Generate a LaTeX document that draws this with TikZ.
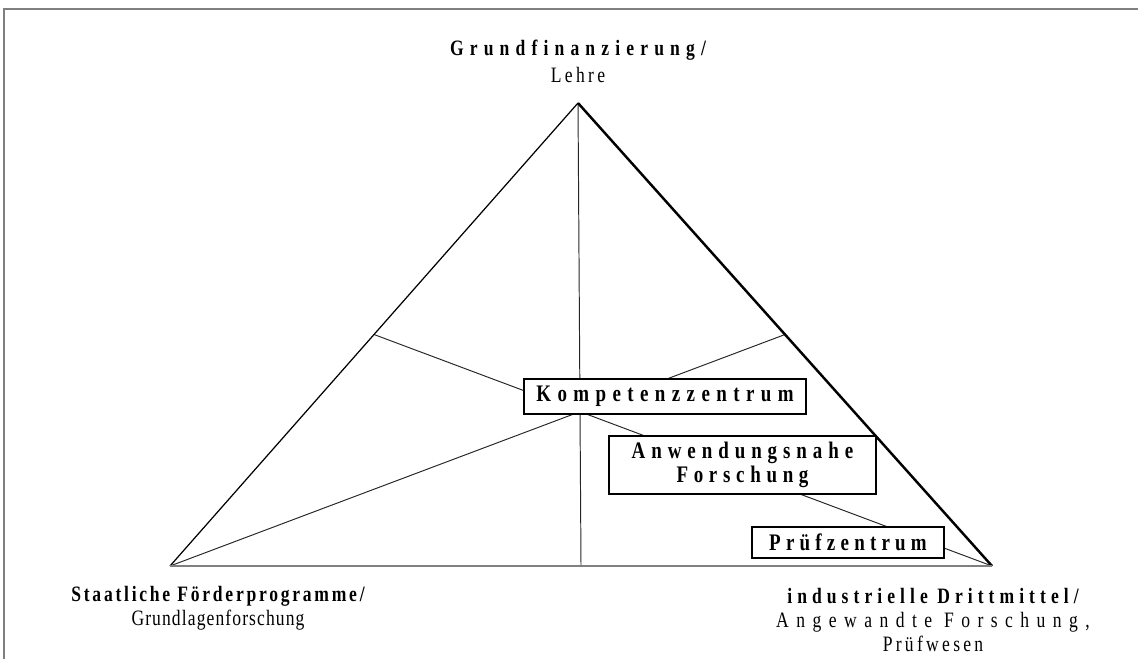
\documentclass[tikz,border=0pt]{standalone}
\usepackage{fontspec}
\setmainfont[FakeStretch=0.8]{Liberation Serif}
\usetikzlibrary{positioning,calc}

\newcommand{\spaced}[2]{{\addfontfeature{LetterSpace=#1}#2}}

\begin{document}
\begin{tikzpicture}[
  x=0.02cm, y=-0.02cm,
  every node/.style={font=\fontsize{12.5}{13.7}\selectfont},
  median/.style={line width=0.55pt, black!85},
  field/.style={draw, line width=1.6pt, fill=white, inner sep=0pt,
                align=center, font=\fontsize{13.5}{13.9}\selectfont\bfseries},
  corner/.style={align=center, inner sep=0pt},
]
  \useasboundingbox (0,0) rectangle (1138,659);
  \draw[gray, line width=0.8pt] (1138,9) -- (4,9) -- (4,659);

  % corners of the triangle and midpoints of its sides
  \coordinate (apex) at (578,103);
  \coordinate (lcorner) at (170,566);
  \coordinate (rcorner) at (992,566);
  \coordinate (lmid) at ($(apex)!0.5!(lcorner)$);
  \coordinate (rmid) at ($(apex)!0.5!(rcorner)$);
  \coordinate (bmid) at ($(lcorner)!0.5!(rcorner)$);

  \draw[median] (apex) -- (bmid);
  \draw[median] (lmid) -- (rcorner);
  \draw[median] (rmid) -- (lcorner);

  \draw[line width=0.7pt] (lcorner) -- (apex);
  \draw[line width=1.4pt] (apex) -- (rcorner);
  \draw[gray, line width=1.2pt] (lcorner) -- (rcorner);

  % fields
  \node[field, minimum width=5.64cm, minimum height=0.7cm] (komp)
    at (665,396.5) {\spaced{27}{Kompetenzzentrum}};
  \node[field, minimum width=5.34cm, minimum height=1.16cm] (anw)
    at (742.5,465) {\spaced{25}{Anwendungsnahe}\\\spaced{24}{Forschung}};
  \node[field, minimum width=3.84cm, minimum height=0.62cm] (pruef)
    at (848,542.5) {\spaced{22}{Prüfzentrum}};

  % labels at the corners
  \node[corner] (grund) at (578,61)
    {\bfseries\spaced{28}{Grundfinanzierung/}\\[1.7pt]\spaced{15}{Lehre}};
  \node[corner] (staat) at (218,608)
    {\bfseries\spaced{12.5}{Staatliche Förderprogramme/}\\\spaced{5}{Grundlagenforschung}};
  \node[corner] (indu) at (933,620)
    {\bfseries\spaced{23}{industrielle Drittmittel/}\\\spaced{34}{Angewandte Forschung,}\\\spaced{15}{Prüfwesen}};
\end{tikzpicture}
\end{document}
